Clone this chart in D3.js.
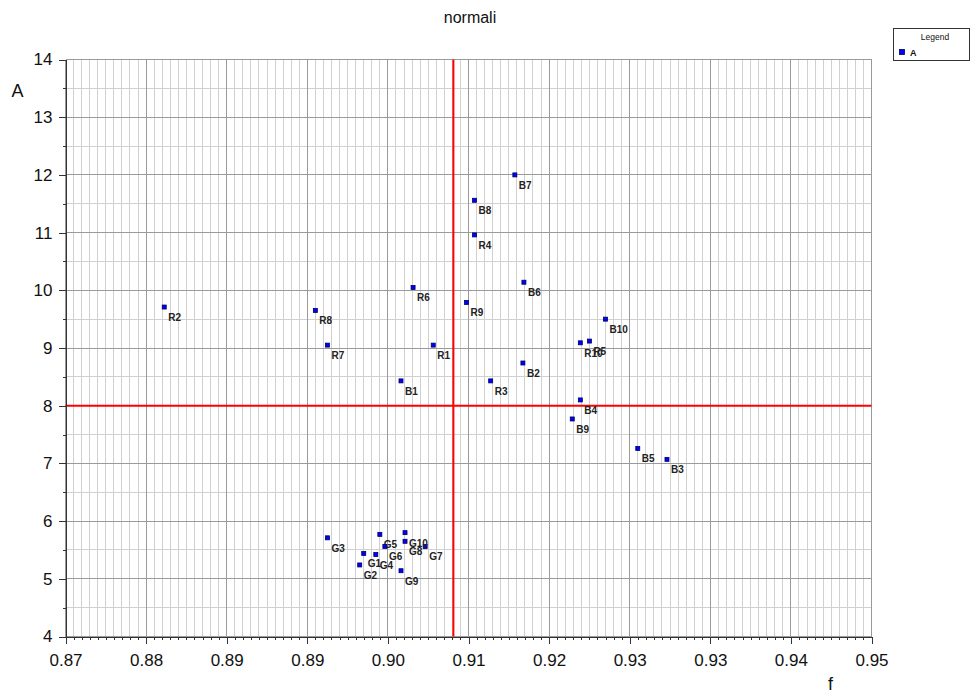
<!DOCTYPE html>
<html>
<head>
<meta charset="utf-8">
<script src="https://cdn.jsdelivr.net/npm/d3@7"></script>
<style>
  html, body { margin: 0; padding: 0; background: #fff; }
  svg { display: block; font-family: Arial, 'Liberation Sans', sans-serif; }
</style>
</head>
<body>
<svg id="chart" width="971" height="695"></svg>
<script>
// point names and values
const labels = ['R1', 'R2', 'R3', 'R4', 'R5', 'R6', 'R7', 'R8', 'R9', 'R10',
  'B1', 'B2', 'B3', 'B4', 'B5', 'B6', 'B7', 'B8', 'B9', 'B10',
  'G1', 'G2', 'G3', 'G4', 'G5', 'G6', 'G7', 'G8', 'G9', 'G10'];
const fValues = [0.9065, 0.8798, 0.9122, 0.9106, 0.9220, 0.9045, 0.8960, 0.8948, 0.9098, 0.9211,
  0.9033, 0.9154, 0.9297, 0.9211, 0.9268, 0.9155, 0.9146, 0.9106, 0.9203, 0.9236,
  0.8996, 0.8992, 0.8960, 0.9008, 0.9012, 0.9017, 0.9057, 0.9037, 0.9033, 0.9037];
const aValues = [9.05, 9.71, 8.43, 10.96, 9.12, 10.05, 9.05, 9.65, 9.79, 9.09,
  8.43, 8.74, 7.07, 8.10, 7.26, 10.14, 12.0, 11.56, 7.77, 9.50,
  5.44, 5.24, 5.71, 5.42, 5.77, 5.56, 5.56, 5.65, 5.14, 5.80];

// axis ticks
const xTicks = [0.870, 0.878, 0.886, 0.894, 0.902, 0.910, 0.918, 0.926, 0.934, 0.942, 0.950];
const xTickLabels = ['0.87', '0.88', '0.89', '0.89', '0.90', '0.91', '0.92', '0.93', '0.93', '0.94', '0.95'];
const yTicks = [4, 5, 6, 7, 8, 9, 10, 11, 12, 13, 14];

// reference lines (red)
const refF = 0.9085;
const refA = 8;

const svg = d3.select('#chart');

const x = d3.scaleLinear().domain([0.87, 0.95]).range([65.5, 871.5]);
const y = d3.scaleLinear().domain([4, 14]).range([636.5, 59.5]);

const xMinor = d3.range(0, 101).map((i) => 0.87 + i * 0.0008);
const yMinor = d3.range(0, 21).map((i) => 4 + i * 0.5);

const grid = svg.append('g').attr('shape-rendering', 'crispEdges');

// minor grid
grid.selectAll('line.vminor')
  .data(xMinor)
  .enter()
  .append('line')
  .attr('x1', (d) => x(d)).attr('x2', (d) => x(d))
  .attr('y1', y(4)).attr('y2', y(14))
  .attr('stroke', '#d0d0d0');

grid.selectAll('line.hminor')
  .data(yMinor)
  .enter()
  .append('line')
  .attr('x1', x(0.87)).attr('x2', x(0.95))
  .attr('y1', (d) => y(d)).attr('y2', (d) => y(d))
  .attr('stroke', '#d0d0d0');

// major grid
grid.selectAll('line.vmajor')
  .data(xTicks)
  .enter()
  .append('line')
  .attr('x1', (d) => x(d)).attr('x2', (d) => x(d))
  .attr('y1', y(4)).attr('y2', y(14))
  .attr('stroke', '#9a9a9a');

grid.selectAll('line.hmajor')
  .data(yTicks)
  .enter()
  .append('line')
  .attr('x1', x(0.87)).attr('x2', x(0.95))
  .attr('y1', (d) => y(d)).attr('y2', (d) => y(d))
  .attr('stroke', '#9a9a9a');

// red reference lines
svg.append('line')
  .attr('x1', x(refF)).attr('x2', x(refF))
  .attr('y1', y(4)).attr('y2', y(14))
  .attr('stroke', '#ff0000').attr('stroke-width', 2);
svg.append('line')
  .attr('x1', x(0.87)).attr('x2', x(0.95))
  .attr('y1', y(refA)).attr('y2', y(refA))
  .attr('stroke', '#ff0000').attr('stroke-width', 2);

// axes
const xAxis = d3.axisBottom(x)
  .tickValues(xTicks)
  .tickFormat((d, i) => xTickLabels[i])
  .tickSize(7)
  .tickPadding(10)
  .tickSizeOuter(0);
const xMinorAxis = d3.axisBottom(x)
  .tickValues(xMinor)
  .tickFormat('')
  .tickSize(3)
  .tickSizeOuter(0);
const yAxis = d3.axisLeft(y)
  .tickValues(yTicks)
  .tickSize(7)
  .tickPadding(6)
  .tickSizeOuter(0);
const yMinorAxis = d3.axisLeft(y)
  .tickValues(yMinor)
  .tickFormat('')
  .tickSize(3)
  .tickSizeOuter(0);

function styleAxis(g) {
  g.attr('shape-rendering', 'crispEdges');
  g.selectAll('path, line').attr('stroke', '#333');
  g.selectAll('text')
    .attr('font-family', "Arial, 'Liberation Sans', sans-serif")
    .attr('font-size', 17)
    .attr('fill', '#111');
}

svg.append('g').attr('transform', `translate(0,${y(4)})`).call(xMinorAxis).call(styleAxis);
svg.append('g').attr('transform', `translate(0,${y(4)})`).call(xAxis).call(styleAxis);
svg.append('g').attr('transform', `translate(${x(0.87)},0)`).call(yMinorAxis).call(styleAxis);
svg.append('g').attr('transform', `translate(${x(0.87)},0)`).call(yAxis).call(styleAxis);

// titles
svg.append('text')
  .attr('x', 470).attr('y', 23)
  .attr('text-anchor', 'middle')
  .attr('font-size', 16)
  .attr('fill', '#111')
  .text('normali');

svg.append('text')
  .attr('x', 11.5).attr('y', 96.5)
  .attr('font-size', 18)
  .attr('fill', '#111')
  .text('A');

svg.append('text')
  .attr('x', 830.5).attr('y', 690)
  .attr('text-anchor', 'middle')
  .attr('font-size', 18)
  .attr('fill', '#111')
  .text('f');

// points
const points = labels.map((name, i) => ({ name, f: fValues[i], a: aValues[i] }));

const pts = svg.append('g')
  .selectAll('g.pt')
  .data(points)
  .enter()
  .append('g')
  .attr('class', 'pt')
  .attr('transform', (d) => `translate(${x(d.f)},${y(d.a)})`);

pts.append('rect')
  .attr('x', -2).attr('y', -2)
  .attr('width', 4).attr('height', 4)
  .attr('fill', '#0000ff')
  .attr('stroke', '#000060')
  .attr('stroke-width', 0.8);

pts.append('text')
  .attr('x', 4).attr('y', 14)
  .attr('font-size', 10)
  .attr('font-weight', 'bold')
  .attr('fill', '#222')
  .text((d) => d.name);

// legend
const legend = svg.append('g');
legend.append('rect')
  .attr('x', 893.5).attr('y', 28.5)
  .attr('width', 76).attr('height', 32)
  .attr('fill', '#fff')
  .attr('stroke', '#333')
  .attr('stroke-width', 1)
  .attr('shape-rendering', 'crispEdges');
legend.append('text')
  .attr('x', 935).attr('y', 40)
  .attr('text-anchor', 'middle')
  .attr('font-size', 8.5)
  .attr('fill', '#111')
  .text('Legend');
legend.append('rect')
  .attr('x', 899.5).attr('y', 49.5)
  .attr('width', 5).attr('height', 5)
  .attr('fill', '#0000ff')
  .attr('stroke', '#000060')
  .attr('stroke-width', 0.8);
legend.append('text')
  .attr('x', 910).attr('y', 55.5)
  .attr('font-size', 9)
  .attr('font-weight', 'bold')
  .attr('fill', '#111')
  .text('A');
</script>
</body>
</html>
